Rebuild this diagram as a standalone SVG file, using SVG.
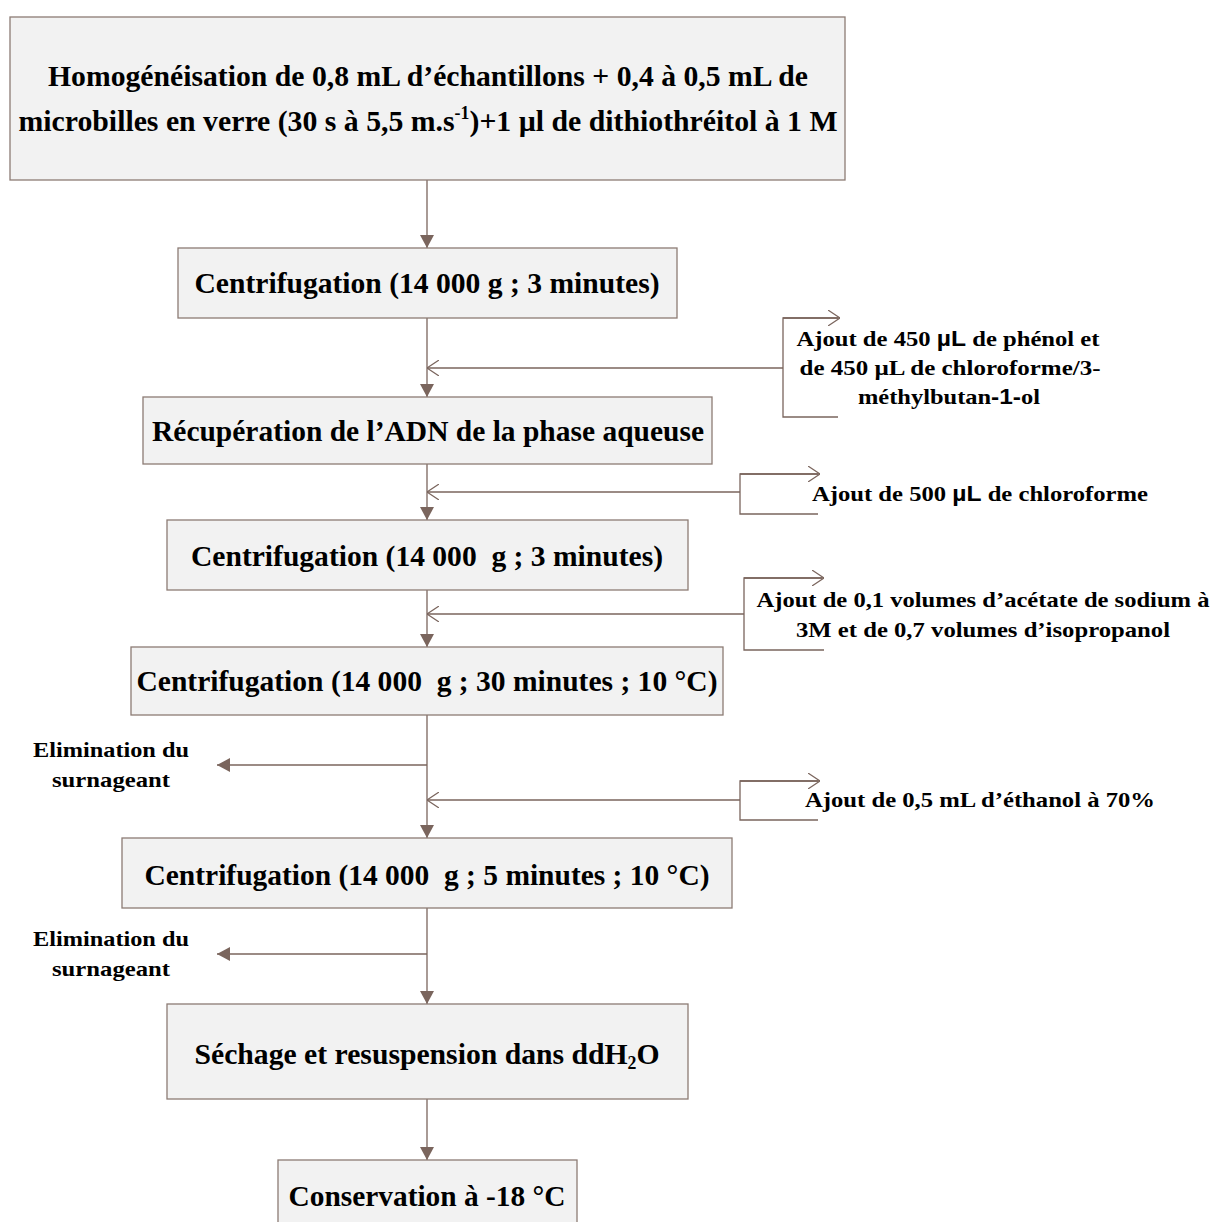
<svg xmlns="http://www.w3.org/2000/svg" width="1213" height="1222" viewBox="0 0 1213 1222">
<style>
.box{fill:#f2f2f2;stroke:#8c7b74;stroke-width:1.3}
.t{font-family:"Liberation Serif","Times New Roman",serif;font-weight:bold;fill:#000;text-anchor:middle;white-space:pre}
.big{font-size:30px}
.sm{font-size:22px}
.sans{font-family:"Liberation Sans",Arial,sans-serif}
.ln{fill:none;stroke:#7a655d;stroke-width:1.3}
</style>
<defs>
<marker id="fa" viewBox="0 0 13 14" refX="13" refY="7" markerWidth="13" markerHeight="14" markerUnits="userSpaceOnUse" orient="auto">
<path d="M0,0 L13,7 L0,14 Z" fill="#7a655d"/>
</marker>
<marker id="oa" viewBox="0 0 12 16" refX="12" refY="8" markerWidth="12" markerHeight="16" markerUnits="userSpaceOnUse" orient="auto">
<path d="M0,0 L12,8 L0,16" fill="none" stroke="#7a655d" stroke-width="1.2"/>
</marker>
</defs>
<rect width="1213" height="1222" fill="#fff"/>
<g id="connectors">
<line class="ln" x1="427" y1="180" x2="427" y2="248" marker-end="url(#fa)"/>
<line class="ln" x1="427" y1="318" x2="427" y2="397" marker-end="url(#fa)"/>
<line class="ln" x1="427" y1="464" x2="427" y2="520" marker-end="url(#fa)"/>
<line class="ln" x1="427" y1="590" x2="427" y2="647" marker-end="url(#fa)"/>
<line class="ln" x1="427" y1="715" x2="427" y2="838" marker-end="url(#fa)"/>
<line class="ln" x1="427" y1="908" x2="427" y2="1004" marker-end="url(#fa)"/>
<line class="ln" x1="427" y1="1099" x2="427" y2="1160" marker-end="url(#fa)"/>
<line class="ln" x1="427" y1="765" x2="217" y2="765" marker-end="url(#fa)"/>
<line class="ln" x1="427" y1="954" x2="217" y2="954" marker-end="url(#fa)"/>
<line class="ln" x1="783" y1="368" x2="427" y2="368" marker-end="url(#oa)"/>
<path class="ln" d="M838,318 H783 V417 H838"/>
<line class="ln" x1="783" y1="318" x2="840" y2="318" marker-end="url(#oa)"/>
<line class="ln" x1="740" y1="492" x2="427" y2="492" marker-end="url(#oa)"/>
<path class="ln" d="M818,474 H740 V514 H818"/>
<line class="ln" x1="740" y1="474" x2="820" y2="474" marker-end="url(#oa)"/>
<line class="ln" x1="744" y1="614" x2="427" y2="614" marker-end="url(#oa)"/>
<path class="ln" d="M822,578 H744 V650 H824"/>
<line class="ln" x1="744" y1="578" x2="824" y2="578" marker-end="url(#oa)"/>
<line class="ln" x1="740" y1="800" x2="427" y2="800" marker-end="url(#oa)"/>
<path class="ln" d="M818,781 H740 V820 H818"/>
<line class="ln" x1="740" y1="781" x2="820" y2="781" marker-end="url(#oa)"/>
</g>
<g id="n1">
<rect class="box" x="10" y="17" width="835" height="163"/>
<text class="t big" x="428" y="86" textLength="760" lengthAdjust="spacingAndGlyphs">Homogénéisation de 0,8 mL d’échantillons + 0,4 à 0,5 mL de</text>
<text class="t big" x="428" y="131" textLength="819" lengthAdjust="spacingAndGlyphs">microbilles en verre (30 s à 5,5 m.s<tspan font-size="18" dy="-12">-1</tspan><tspan dy="12">)+1 µl de dithiothréitol à 1 M</tspan></text>
</g>
<g id="n2">
<rect class="box" x="178" y="248" width="499" height="70"/>
<text class="t big" x="427" y="293" textLength="465" lengthAdjust="spacingAndGlyphs">Centrifugation (14 000 g ; 3 minutes)</text>
</g>
<g id="n3">
<rect class="box" x="143" y="397" width="569" height="67"/>
<text class="t big" x="428" y="441" textLength="552" lengthAdjust="spacingAndGlyphs">Récupération de l’ADN de la phase aqueuse</text>
</g>
<g id="n4">
<rect class="box" x="167" y="520" width="521" height="70"/>
<text class="t big" x="427" y="566" textLength="472" lengthAdjust="spacingAndGlyphs">Centrifugation (14 000  g ; 3 minutes)</text>
</g>
<g id="n5">
<rect class="box" x="131" y="647" width="592" height="68"/>
<text class="t big" x="427" y="691" textLength="581" lengthAdjust="spacingAndGlyphs">Centrifugation (14 000  g ; 30 minutes ; 10 °C)</text>
</g>
<g id="n6">
<rect class="box" x="122" y="838" width="610" height="70"/>
<text class="t big" x="427" y="885" textLength="565" lengthAdjust="spacingAndGlyphs">Centrifugation (14 000  g ; 5 minutes ; 10 °C)</text>
</g>
<g id="n7">
<rect class="box" x="167" y="1004" width="521" height="95"/>
<text class="t big" x="427" y="1064" textLength="465" lengthAdjust="spacingAndGlyphs">Séchage et resuspension dans ddH<tspan font-size="18" dy="5">2</tspan><tspan dy="-5">O</tspan></text>
</g>
<g id="n8">
<rect class="box" x="278" y="1160" width="299" height="80"/>
<text class="t big" x="427" y="1206" textLength="277" lengthAdjust="spacingAndGlyphs">Conservation à -18 °C</text>
</g>
<g id="a1">
<text class="t sm" x="948" y="346" textLength="303" lengthAdjust="spacingAndGlyphs">Ajout de 450 <tspan class="sans">µL</tspan> de phénol et</text>
<text class="t sm" x="950" y="375" textLength="301" lengthAdjust="spacingAndGlyphs">de 450 µL de chloroforme/3-</text>
<text class="t sm" x="949" y="404" textLength="182" lengthAdjust="spacingAndGlyphs">méthylbutan<tspan class="sans">-1-</tspan>ol</text>
</g>
<g id="a2">
<text class="t sm" x="980" y="501" textLength="336" lengthAdjust="spacingAndGlyphs">Ajout de 500 <tspan class="sans">µL</tspan> de chloroforme</text>
</g>
<g id="a3">
<text class="t sm" x="983" y="607" textLength="453" lengthAdjust="spacingAndGlyphs">Ajout de 0,1 volumes d’acétate de sodium à</text>
<text class="t sm" x="983" y="637" textLength="374" lengthAdjust="spacingAndGlyphs">3M et de 0,7 volumes d’isopropanol</text>
</g>
<g id="e1">
<text class="t sm" x="111" y="757" textLength="156" lengthAdjust="spacingAndGlyphs">Elimination du</text>
<text class="t sm" x="111" y="787" textLength="118" lengthAdjust="spacingAndGlyphs">surnageant</text>
</g>
<g id="a4">
<text class="t sm" x="980" y="807" textLength="350" lengthAdjust="spacingAndGlyphs">Ajout de 0,5 mL d’éthanol à 70%</text>
</g>
<g id="e2">
<text class="t sm" x="111" y="946" textLength="156" lengthAdjust="spacingAndGlyphs">Elimination du</text>
<text class="t sm" x="111" y="976" textLength="118" lengthAdjust="spacingAndGlyphs">surnageant</text>
</g>
</svg>
